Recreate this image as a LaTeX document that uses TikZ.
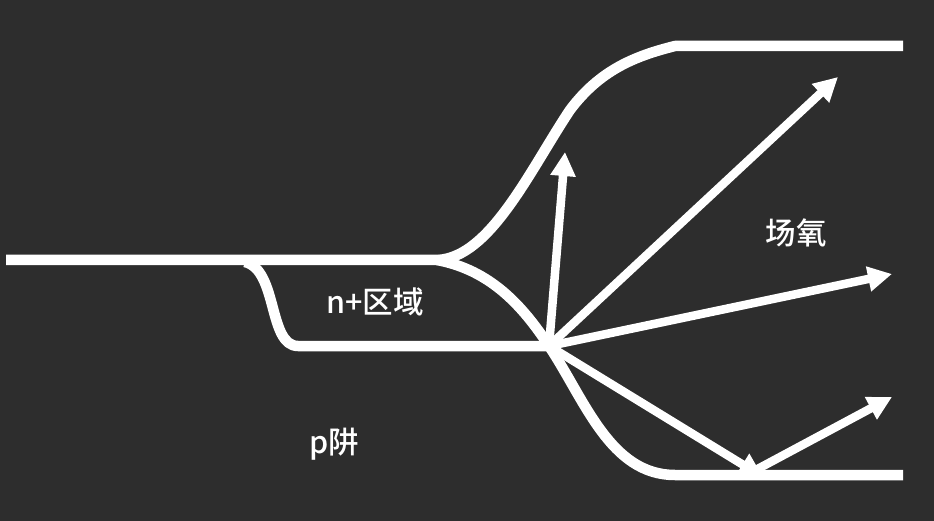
\documentclass[tikz,border=0pt]{standalone}
\usepackage{fontspec}
\setmainfont{Noto Sans CJK SC Medium}
\usetikzlibrary{arrows.meta}
\definecolor{bgdark}{HTML}{2D2D2D}
\begin{document}
\begin{tikzpicture}[x=1pt, y=-1pt,
  oxide/.style={draw=white, line width=10.5pt, line join=round},
  ray/.style={draw=white, line width=8.5pt, -{Triangle[length=24pt, width=24pt]}},
  tag/.style={text=white, font=\fontsize{30.5pt}{34pt}\selectfont, inner sep=0pt}
]
  \fill[bgdark] (0,0) rectangle (934,521);
  \useasboundingbox (0,0) rectangle (934,521);
  % field oxide and junction outlines
  \draw[oxide] (6,260) -- (437,260)
        .. controls (490,258) and (530,170) .. (570,110)
        .. controls (600,70) and (635,56) .. (675,46) -- (903,46);
  \draw[oxide] (437,260) .. controls (490,270) and (522,305) .. (549,346)
        .. controls (585,400) and (610,475) .. (675,475) -- (903,475);
  \draw[oxide] (245,262) .. controls (278,270) and (268,346) .. (298,346) -- (549,346);
  \coordinate (src) at (549,346);
  \coordinate (hit) at (763,477);
  \coordinate (bounce) at (752,472);
  \coordinate (rayA) at (565,152);
  \coordinate (rayB) at (838,77);
  \coordinate (rayC) at (892,274);
  \coordinate (rayD) at (892,397);
  \draw[ray] (src) -- (rayA);
  \draw[ray] (src) -- (rayB);
  \draw[ray] (src) -- (rayC);
  \draw[ray] (src) -- (hit);
  \draw[ray] (bounce) -- (rayD);
  \node[tag] (nplus) at (375,302) {n+区域};
  \node[tag] (pwell) at (334,444) {p阱};
  \node[tag] (fox) at (796,233) {场氧};
\end{tikzpicture}
\end{document}
